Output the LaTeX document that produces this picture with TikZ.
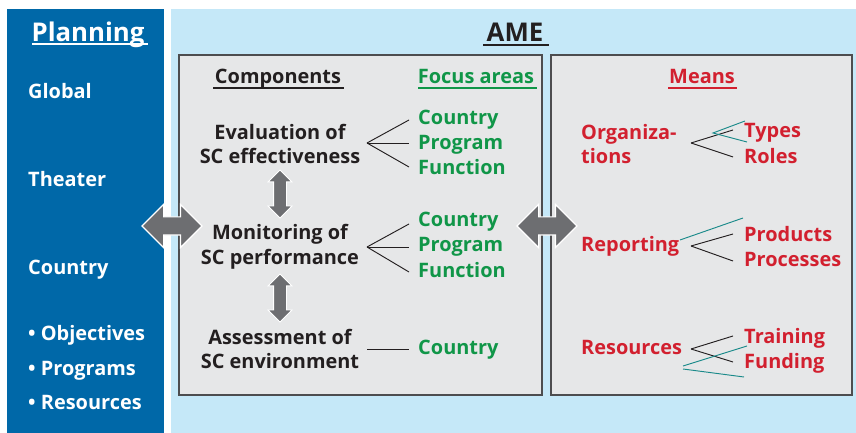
\documentclass[tikz,border=0pt]{standalone}
\usepackage{fontspec}
\setmainfont{Open Sans}
\usetikzlibrary{shapes.arrows,positioning,calc}
\definecolor{planblue}{RGB}{0,104,168}
\definecolor{amebg}{RGB}{197,232,248}
\definecolor{boxgray}{RGB}{230,231,232}
\definecolor{boxedge}{RGB}{77,77,79}
\definecolor{textdark}{RGB}{35,31,32}
\definecolor{focusgreen}{RGB}{16,150,72}
\definecolor{meanred}{RGB}{210,32,47}
\definecolor{strayteal}{RGB}{26,138,138}
\definecolor{arrowgray}{RGB}{109,110,113}

\begin{document}
\begin{tikzpicture}[
        x=0.03cm, y=-0.03cm,
        every node/.style={font=\fontsize{17}{21}\selectfont\bfseries, inner sep=0pt},
        head/.style={font=\fontsize{22}{26}\selectfont\bfseries, anchor=base},
        title/.style={anchor=base},
        level/.style={anchor=base west, text=white},
        comp/.style={align=center, text=textdark},
        focus/.style={anchor=base west, text=focusgreen},
        mean/.style={anchor=base west, text=meanred},
        panel/.style={fill=boxgray, draw=boxedge, line width=1.2pt},
        fan/.style={draw=textdark, line width=0.8pt},
        stray/.style={draw=strayteal, line width=0.8pt},
        uline/.style={line width=1.4pt},
        bigarrow/.style={double arrow, fill=arrowgray, draw=white, line width=1pt,
            inner xsep=0pt, inner ysep=0.255cm,
            minimum height=1.8cm, double arrow head extend=0.375cm},
        smallarrow/.style={double arrow, fill=arrowgray, draw=white, line width=0.8pt,
            inner xsep=0pt, inner ysep=0.18cm,
            minimum height=1.44cm, double arrow head extend=0.165cm, rotate=90}
    ]
        \useasboundingbox (0,0) rectangle (856,433);
        \fill[white] (0,0) rectangle (856,433);
        \fill[planblue] (7,9) rectangle (164,433);
        \fill[amebg] (171,9) rectangle (856,433);
        \draw[panel] (179,55) rectangle (542,395);
        \draw[panel] (551,55) rectangle (852,395);

        % planning column
        \node[head, text=white] (plan) at (88,42) {Planning};
        \draw[uline, white] (32,44) -- (148,44);
        \node[level] (glob) at (28,99) {Global};
        \node[level] (theat) at (28,187) {Theater};
        \node[level] (ctry) at (28,275) {Country};
        \node[level] (obj) at (28,341) {• Objectives};
        \node[level] (prog) at (28,376) {• Programs};
        \node[level] (res) at (28,410) {• Resources};

        % AME
        \node[head, text=textdark] (ame) at (515,42) {AME};
        \draw[uline, textdark] (483,45) -- (549,45);

        % components and focus areas
        \node[title, text=textdark] (comphead) at (278,84) {Components};
        \draw[uline, textdark] (213,88) -- (344,88);
        \node[title, text=focusgreen] (focushead) at (476,84) {Focus areas};
        \draw[uline, focusgreen] (418,88) -- (537,88);

        \node[comp] (eval) at (280,144) {Evaluation of\\SC effectiveness};
        \node[comp] (mon) at (280,247) {Monitoring of\\SC performance};
        \node[comp] (ass) at (280,349) {Assessment of\\SC environment};

        \node[focus] (fa1) at (418,125) {Country};
        \node[focus] (fa2) at (418,150) {Program};
        \node[focus] (fa3) at (418,175) {Function};
        \node[focus] (fb1) at (418,227) {Country};
        \node[focus] (fb2) at (418,252) {Program};
        \node[focus] (fb3) at (418,278) {Function};
        \node[focus] (fc1) at (418,355) {Country};

        \coordinate (evfan) at (367,143);
        \coordinate (monfan) at (367,247);
        \coordinate (assfan) at (367,349);
        \draw[fan] (evfan) -- (409,120);
        \draw[fan] (evfan) -- (409,143);
        \draw[fan] (evfan) -- (409,167);
        \draw[fan] (monfan) -- (409,224);
        \draw[fan] (monfan) -- (409,247);
        \draw[fan] (monfan) -- (409,272);
        \draw[fan] (assfan) -- (409,349);

        \node[smallarrow] (evmon) at (280,194) {};
        \node[smallarrow] (monass) at (280,298) {};

        % means
        \node[title, text=meanred] (meanhead) at (702,84) {Means};
        \draw[uline, meanred] (668,88) -- (737,88);

        \node[mean, anchor=west, align=left] (org) at (581,144) {Organiza-\\tions};
        \node[mean] (rep) at (581,252) {Reporting};
        \node[mean] (rsc) at (581,355) {Resources};
        \node[mean] (typ) at (744,138) {Types};
        \node[mean] (rol) at (744,164) {Roles};
        \node[mean] (prd) at (744,242) {Products};
        \node[mean] (prc) at (744,267) {Processes};
        \node[mean] (trn) at (744,344) {Training};
        \node[mean] (fnd) at (744,369) {Funding};

        \coordinate (orgfan) at (691,143);
        \coordinate (repfan) at (691,246);
        \coordinate (rscfan) at (691,349);
        \draw[fan] (orgfan) -- (733,130);
        \draw[fan] (orgfan) -- (733,157);
        \draw[fan] (repfan) -- (733,234);
        \draw[fan] (repfan) -- (733,261);
        \draw[fan] (rscfan) -- (733,336);
        \draw[fan] (rscfan) -- (733,362);

        % stray teal strokes
        \draw[stray] (745,121) -- (713,133) -- (747,142);
        \draw[stray] (680,240) -- (743,218);
        \draw[stray] (747,346) -- (683,366);
        \draw[stray] (683,369) -- (744,377);

        % links between panels
        \node[bigarrow] (planame) at (172,226) {};
        \node[bigarrow] (compmean) at (547,226) {};
\end{tikzpicture}
\end{document}
